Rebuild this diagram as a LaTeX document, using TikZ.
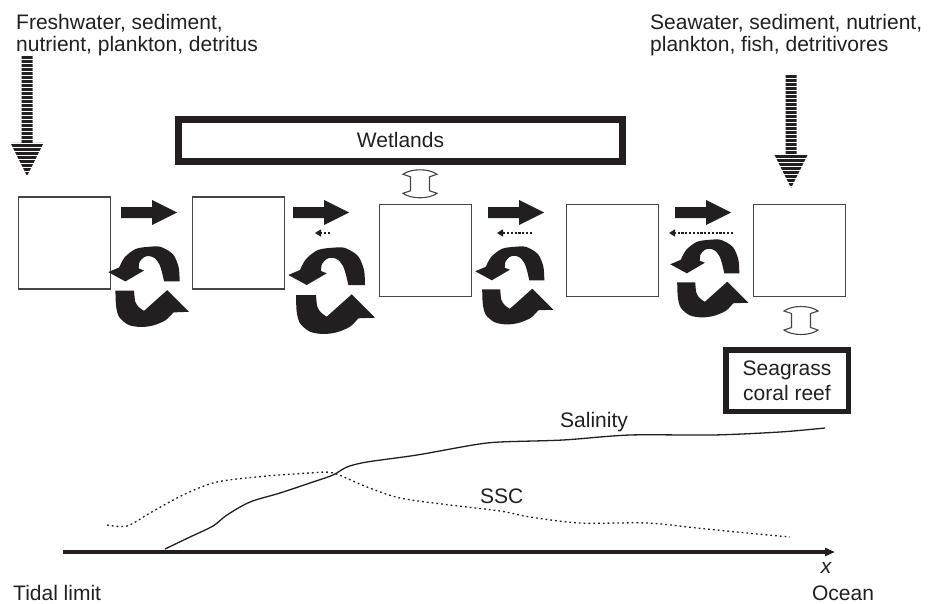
\documentclass[tikz,border=0pt]{standalone}
\usepackage{fontspec}
\setmainfont{Liberation Sans}
\usetikzlibrary{arrows.meta,calc}
\definecolor{ink}{RGB}{35,31,32}
\definecolor{edge}{RGB}{70,68,68}

% striped inflow arrow: x of axis, top of shaft, base of head, tip
\newcommand{\stripearrow}[4]{%
  \begin{scope}
    \clip (#1-5.5,#2) -- (#1+5.5,#2) -- (#1+5.5,#3) -- (#1+16.5,#3) -- (#1,#4)
      -- (#1-16.5,#3) -- (#1-5.5,#3) -- cycle;
    \foreach \sy in {0,4,...,136}
      \fill[ink] (#1-20,#2+\sy) rectangle (#1+20,#2+\sy+2.6);
  \end{scope}}

\begin{document}
\begin{tikzpicture}[x=1pt,y=-1pt,
  txt/.style={font=\fontsize{21}{22}\selectfont, inner sep=0pt, text=ink},
  cell/.style={draw=edge, line width=1.3pt, minimum width=92pt, minimum height=92pt, inner sep=0pt},
  thickbox/.style={draw=ink, inner sep=0pt, text=ink},
  backflow/.style={draw=ink, line width=1.6pt, dash pattern=on 2.2pt off 1.6pt,
    -{Triangle[length=6pt,width=7pt]}},
  salinity/.style={draw=ink, line width=1.3pt},
  ssc/.style={draw=ink, line width=1.3pt, dash pattern=on 1.8pt off 3pt},
  flowarrow/.pic={
    \fill[ink] (0,207) -- (31,207) -- (31,200) -- (56,212.5) -- (31,225) -- (31,218) -- (0,218) -- cycle;},
  exchange/.pic={
    \draw[edge, line width=1.1pt, fill=white] (-9.5,-7) -- (-17,-9.5)
      .. controls (-9,-15.5) and (9,-15.5) .. (17,-9.5) -- (9.5,-7) -- (9.5,7) -- (17,9.5)
      .. controls (9,15.5) and (-9,15.5) .. (-17,9.5) -- (-9.5,7) -- cycle;},
  recycle/.pic={
    % upper arc, head turning down on the left
    \fill[ink] (60.3,37) -- (77,37)
      -- plot[smooth] coordinates {(77,37) (76,22) (70,8) (57,0) (45,-0.3) (30,2) (18,11) (12,22)}
      -- (0.3,27) -- (18.7,37) -- (38.7,25.3) -- (33,23)
      -- plot[smooth] coordinates {(33,23) (34,16) (38.7,11) (44,9.7) (50.3,12) (55.3,18.7) (58,27) (60.3,37)}
      -- cycle;
    % lower arc, head turning up on the right
    \fill[ink] (8,47) -- (28,47)
      -- plot[smooth] coordinates {(28,47) (29.3,58.7) (33,64.5) (38.7,68.7)}
      -- (63.7,46.3) -- (87,69.7) -- (70.3,70.3)
      -- plot[smooth] coordinates {(70.3,70.3) (62,78.7) (48.7,84.3) (35.3,86) (22,83.7) (12,75.3) (8.7,63.7) (8,47)}
      -- cycle;}
]
\useasboundingbox (0,0) rectangle (928,604);

% source texts
\node[txt, anchor=base west] (fw1) at (16,29.5) {Freshwater, sediment,};
\node[txt, anchor=base west] (fw2) at (16,51.5) {nutrient, plankton, detritus};
\node[txt, anchor=base west] (sw1) at (650,29.5) {Seawater, sediment, nutrient,};
\node[txt, anchor=base west] (sw2) at (650,51.5) {plankton, fish, detritivores};

% inflows from river and sea
\stripearrow{27}{56}{143}{176}
\stripearrow{791}{75}{155}{188}

% fringing habitats
\node[thickbox, line width=7pt, minimum width=444pt, minimum height=42.3pt,
  font=\fontsize{21}{22}\selectfont] (wet) at (400.5,140.3) {Wetlands};
\node[thickbox, line width=5.5pt, minimum width=122.5pt, minimum height=61.5pt,
  align=center, font=\fontsize{21}{25}\selectfont] (sea) at (787,380.5) {Seagrass\\coral reef};

% estuary segments
\node[cell] (b1) at (64.5,243) {};
\node[cell] (b2) at (238.5,243) {};
\node[cell] (b3) at (425.5,250.5) {};
\node[cell] (b4) at (612.5,250.5) {};
\node[cell] (b5) at (799.5,250.5) {};

% seaward net transport
\pic at (121,0) {flowarrow};
\pic at (293,0) {flowarrow};
\pic at (488,0) {flowarrow};
\pic at (675,0) {flowarrow};

% landward return transport
\draw[backflow] (330,233) -- (315,233);
\draw[backflow] (532,233) -- (497,233);
\draw[backflow] (733,233) -- (669,233);

% local recycling
\pic[scale=0.93] at (108,247) {recycle};
\pic at (288,248) {recycle};
\pic[scale=0.9] at (475,247) {recycle};
\pic[scale=0.9] at (670,240) {recycle};

% exchange with habitats
\pic at (420,183.8) {exchange};
\pic at (801,320.5) {exchange};

% along-estuary profiles
\coordinate (head) at (63,552);
\coordinate (mouth) at (835,552);
\draw[ink, line width=3.5pt, -{Triangle[length=10pt,width=8pt]}] (head) -- (mouth);

\draw[salinity] plot[smooth] coordinates {(165,549) (190,537) (213,526) (227,515) (250,502)
  (280,493) (310,483) (333,475) (347,467) (367,462) (417,455) (473,445) (500,442)
  (563,440) (630,435) (713,435) (780,432) (825,428)};
\draw[ssc] plot[smooth] coordinates {(107,525) (127,526) (150,513) (183,495) (217,482)
  (267,476) (310,473) (333,473) (367,487) (400,498) (450,505) (500,511) (530,517)
  (580,523) (647,523) (697,528) (747,533) (790,537)};

\node[txt, anchor=base west] (sal) at (560,427) {Salinity};
\node[txt, anchor=base west] (ssclbl) at (480,503) {SSC};
\node[txt, anchor=base] (xlbl) at (826,573) {\itshape x};
\node[txt, anchor=base] (ocean) at (843,600) {Ocean};
\node[txt, anchor=base west] (tidal) at (13,600) {Tidal limit};
\end{tikzpicture}
\end{document}
